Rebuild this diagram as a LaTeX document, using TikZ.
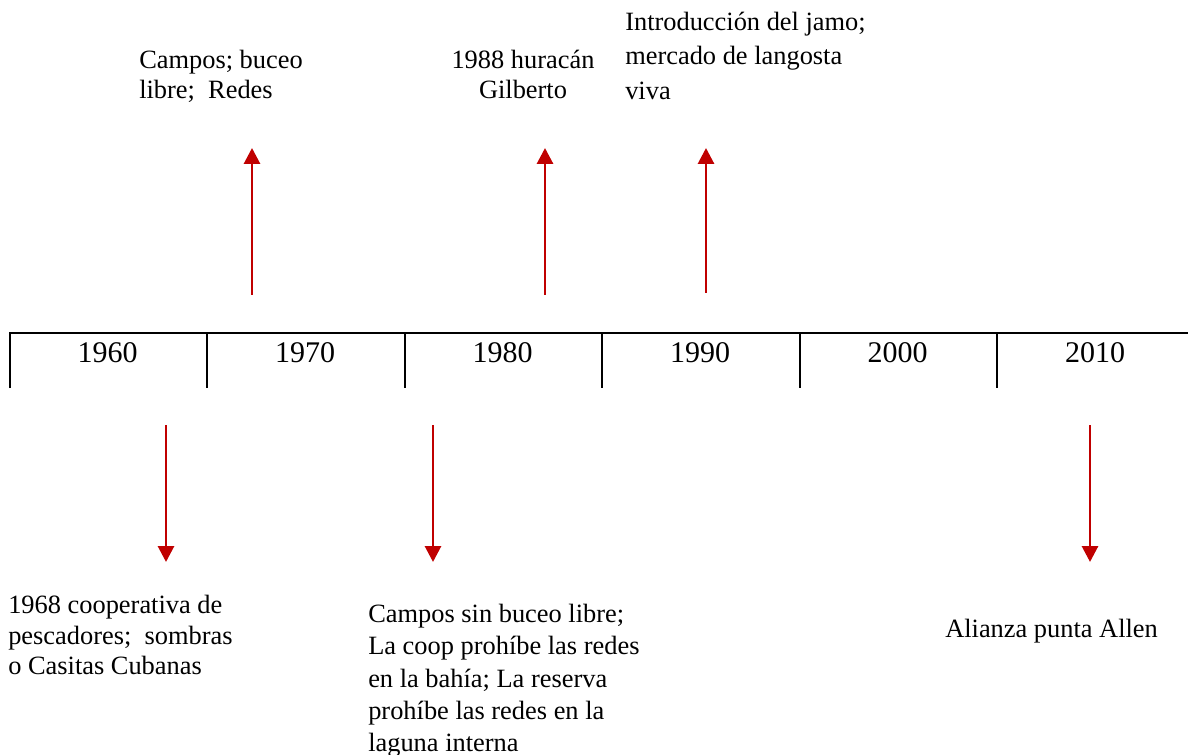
\documentclass[tikz,border=0pt]{standalone}
\usepackage{fontspec}
\setmainfont{Liberation Serif}
\usetikzlibrary{positioning,arrows.meta}
\definecolor{evred}{HTML}{C00000}
\tikzset{
  event/.style={draw=evred, line width=2.2pt, -{Triangle[width=12pt,length=12pt]}},
  note/.style={font=\fontsize{19.8}{#1}\selectfont, align=left, inner sep=0pt, anchor=north west},
  note/.default=23.6,
  year/.style={font=\fontsize{22.5}{27}\selectfont, inner sep=0pt, anchor=base},
  axis/.style={line width=1.5pt},
}

\begin{document}
\begin{tikzpicture}[x=0.75pt,y=-0.75pt]
\useasboundingbox (0,0) rectangle (1188,755);
% timeline
\coordinate (l0) at (9.5,333.5);
\coordinate (l1) at (1188,333.5);
\coordinate (lb) at (9.5,388);
\draw[axis] (lb) -- (l0) -- (l1);
\foreach \yr [count=\i from 0] in {1960,1970,1980,1990,2000,2010}{
  \ifnum\i>0
    \coordinate (k\i) at (9.5+197.5*\i,333.5);
    \coordinate (kb\i) at (9.5+197.5*\i,388);
    \draw[axis] (k\i) -- (kb\i);
  \fi
  \node[year] (y\yr) at (107.5+197.5*\i,363) {\yr};
}

% events above
\node[note=22.6] (e1) at (139,50) {Campos; buceo\\libre;~ Redes};
\node[note=22.6, align=center, anchor=north] (e2) at (523,50) {1988 huracán\\Gilberto};
\node[note=26] (e3) at (625,11.5) {Introducción del jamo;\\mercado de langosta\\viva};
\coordinate (a1) at (252,295);
\coordinate[above=110.25pt of a1] (b1);
\coordinate (a2) at (545,295);
\coordinate[above=110.25pt of a2] (b2);
\coordinate (a3) at (706,293);
\coordinate[above=108.75pt of a3] (b3);
\draw[event] (a1) -- (b1);
\draw[event] (a2) -- (b2);
\draw[event] (a3) -- (b3);

% events below
\node[note=22.9] (e4) at (8,595) {1968 cooperativa de\\pescadores;~ sombras\\o Casitas Cubanas};
\node[note=24.2] (e5) at (368,604) {Campos sin buceo libre;\\La coop prohíbe las redes\\en la bahía; La reserva\\prohíbe las redes en la\\laguna interna};
\node[note, anchor=base west] (e6) at (945,637) {Alianza punta Allen};
\coordinate (a4) at (166,425);
\coordinate[below=102.75pt of a4] (b4);
\coordinate (a5) at (433,425);
\coordinate[below=102.75pt of a5] (b5);
\coordinate (a6) at (1090,425);
\coordinate[below=102.75pt of a6] (b6);
\draw[event] (a4) -- (b4);
\draw[event] (a5) -- (b5);
\draw[event] (a6) -- (b6);
\end{tikzpicture}
\end{document}
